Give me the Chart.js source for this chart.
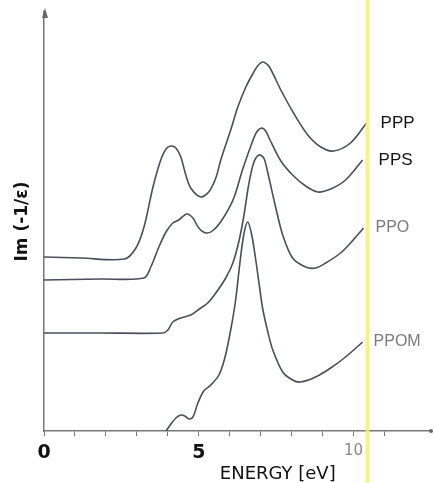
<!DOCTYPE html>
<html>
<head>
<meta charset="utf-8">
<script src="https://cdn.jsdelivr.net/npm/chart.js@4.4.1/dist/chart.umd.min.js"></script>
<style>
  html, body { margin: 0; padding: 0; background: #fff; }
</style>
</head>
<body>
<canvas id="lossChart" width="434" height="483"></canvas>
<script>
// Loss function curves (energy in eV, Im(-1/eps) in arbitrary offset units)
const seriesNames = ['PPP', 'PPS', 'PPO', 'PPOM'];

const pppEnergy = [0, 1.2, 2.6, 2.97, 3.23, 3.52, 3.77, 3.94, 4.10, 4.26, 4.42, 4.58, 4.74, 5.06, 5.32, 5.55, 5.71, 6.03, 6.26, 6.52, 6.74, 6.90, 7.06, 7.26, 7.65, 8.06, 8.52, 8.94, 9.35, 9.90, 10.42];
const pppLoss   = [17.4, 17.3, 17.2, 18.3, 20.4, 24.4, 27.1, 28.2, 28.5, 28.3, 27.4, 25.6, 24.3, 23.4, 23.9, 25.3, 27.1, 30.1, 32.4, 34.4, 35.7, 36.5, 36.9, 36.5, 34.1, 31.8, 29.6, 28.4, 28.0, 28.8, 30.8];

const ppsEnergy = [0, 1.84, 3.23, 3.45, 3.71, 3.94, 4.16, 4.35, 4.61, 4.81, 5.00, 5.23, 5.48, 5.81, 6.13, 6.42, 6.74, 6.87, 7.03, 7.16, 7.30, 7.65, 8.03, 8.45, 8.84, 9.26, 9.74, 10.29];
const ppsLoss   = [15.1, 15.2, 15.3, 16.4, 18.4, 19.9, 20.8, 21.1, 21.7, 21.3, 20.3, 19.8, 20.1, 21.4, 23.3, 26.2, 29.0, 29.9, 30.3, 30.0, 29.1, 27.0, 25.6, 24.5, 23.9, 24.2, 25.1, 27.1];

const ppoEnergy = [0, 1.84, 3.84, 4.00, 4.16, 4.42, 4.74, 5.06, 5.29, 5.55, 5.87, 6.10, 6.29, 6.45, 6.61, 6.77, 6.94, 7.10, 7.23, 7.48, 7.71, 8.03, 8.45, 8.77, 9.10, 9.58, 9.90, 10.32];
const ppoLoss   = [9.8, 9.8, 9.8, 10.1, 10.9, 11.3, 11.6, 12.3, 12.8, 13.8, 15.3, 16.8, 18.9, 21.4, 24.6, 26.8, 27.6, 27.3, 25.8, 22.4, 19.6, 17.3, 16.4, 16.3, 16.8, 17.8, 18.8, 20.3];

const ppomEnergy = [3.94, 4.10, 4.26, 4.42, 4.55, 4.68, 4.81, 4.97, 5.16, 5.39, 5.65, 5.84, 6.03, 6.19, 6.32, 6.45, 6.58, 6.71, 6.84, 6.94, 7.06, 7.23, 7.39, 7.71, 8.03, 8.29, 8.77, 9.26, 9.74, 10.29];
const ppomLoss   = [0.0, 0.7, 1.3, 1.6, 1.5, 1.2, 1.4, 2.8, 4.0, 4.6, 5.6, 7.3, 10.1, 13.1, 16.6, 19.6, 20.9, 19.6, 17.1, 14.9, 12.3, 9.9, 8.1, 5.9, 5.1, 4.9, 5.4, 6.3, 7.4, 8.9];

const energyTicks = [0, 1, 2, 3, 4, 5, 6, 7, 8, 9, 10, 11];
const labelledTicks = [0, 5, 10];
const markerEnergy = 10.45; // yellow marker line

const lineColor = '#4a4e5b';
const allEnergy = [pppEnergy, ppsEnergy, ppoEnergy, ppomEnergy];
const allLoss = [pppLoss, ppsLoss, ppoLoss, ppomLoss];

const datasets = seriesNames.map((name, i) => ({
    label: name,
    data: allEnergy[i].map((e, j) => ({ x: e, y: allLoss[i][j] })),
    borderColor: lineColor,
    borderWidth: 1.6,
    pointRadius: 0,
    fill: false,
    tension: 0.3
}));

// curve names at the right-hand ends
const seriesLabels = {
    id: 'seriesLabels',
    afterDatasetsDraw(chart) {
        const ctx = chart.ctx;
        const shift = [14, 16, 12, 11];
        chart.data.datasets.forEach((ds, i) => {
            const pts = chart.getDatasetMeta(i).data;
            const last = pts[pts.length - 1];
            ctx.save();
            ctx.font = i < 2 ? '17px "Liberation Sans", sans-serif' : '16px "Liberation Sans", sans-serif';
            ctx.fillStyle = i < 2 ? '#111' : '#7a7a7a';
            ctx.textBaseline = 'middle';
            ctx.fillText(ds.label, last.x + shift[i], last.y);
            ctx.restore();
        });
    }
};

// axis arrow heads, x title and the yellow marker
const decorations = {
    id: 'decorations',
    afterDraw(chart) {
        const ctx = chart.ctx;
        const { left, right, top, bottom } = chart.chartArea;
        ctx.save();
        ctx.fillStyle = '#666';
        ctx.beginPath();
        ctx.moveTo(left + 1, top - 4);
        ctx.lineTo(left - 2, top + 6);
        ctx.lineTo(left + 4, top + 6);
        ctx.closePath();
        ctx.fill();
        ctx.beginPath();
        ctx.arc(right, bottom, 2, 0, Math.PI * 2);
        ctx.fill();

        ctx.fillStyle = '#111';
        ctx.font = '18px "DejaVu Sans", sans-serif';
        ctx.textAlign = 'center';
        ctx.textBaseline = 'middle';
        ctx.fillText('ENERGY [eV]', chart.scales.x.getPixelForValue(7.55), 474);

        const mx = chart.scales.x.getPixelForValue(markerEnergy);
        ctx.strokeStyle = 'rgba(246, 240, 110, 0.85)';
        ctx.lineWidth = 4;
        ctx.beginPath();
        ctx.moveTo(mx, 0);
        ctx.lineTo(mx, chart.height);
        ctx.stroke();
        ctx.restore();
    }
};

const ctx = document.getElementById('lossChart').getContext('2d');
const lossChart = new Chart(ctx, {
    type: 'line',
    data: { datasets },
    options: {
        responsive: false,
        animation: false,
        layout: { padding: { left: 12, top: 12, right: 3, bottom: 0 } },
        plugins: {
            legend: { display: false },
            tooltip: { enabled: false }
        },
        scales: {
            x: {
                type: 'linear',
                min: 0,
                max: 12.5,
                afterBuildTicks: (scale) => { scale.ticks = energyTicks.map(v => ({ value: v })); },
                afterFit: (scale) => { scale.height = 52; },
                border: { display: true, color: '#777', width: 1.5 },
                grid: { drawOnChartArea: false, drawTicks: true, tickLength: 5, color: '#777' },
                ticks: {
                    autoSkip: false,
                    maxRotation: 0,
                    padding: 6,
                    callback: (v) => labelledTicks.includes(v) ? String(v) : '',
                    color: (c) => c.tick.value === 10 ? '#888' : '#111',
                    font: (c) => c.tick && c.tick.value === 10
                        ? { family: 'DejaVu Sans', size: 15 }
                        : { family: 'DejaVu Sans', size: 19, weight: 'bold' }
                }
            },
            y: {
                min: 0,
                max: 41.9,
                afterFit: (scale) => { scale.width = 32; },
                border: { display: true, color: '#777', width: 1.5 },
                grid: { display: false },
                ticks: { display: false },
                title: {
                    display: true,
                    text: 'Im (-1/ε)',
                    color: '#111',
                    padding: 0,
                    font: { family: 'DejaVu Sans', size: 17, weight: 'bold' }
                }
            }
        }
    },
    plugins: [seriesLabels, decorations]
});
</script>
</body>
</html>
